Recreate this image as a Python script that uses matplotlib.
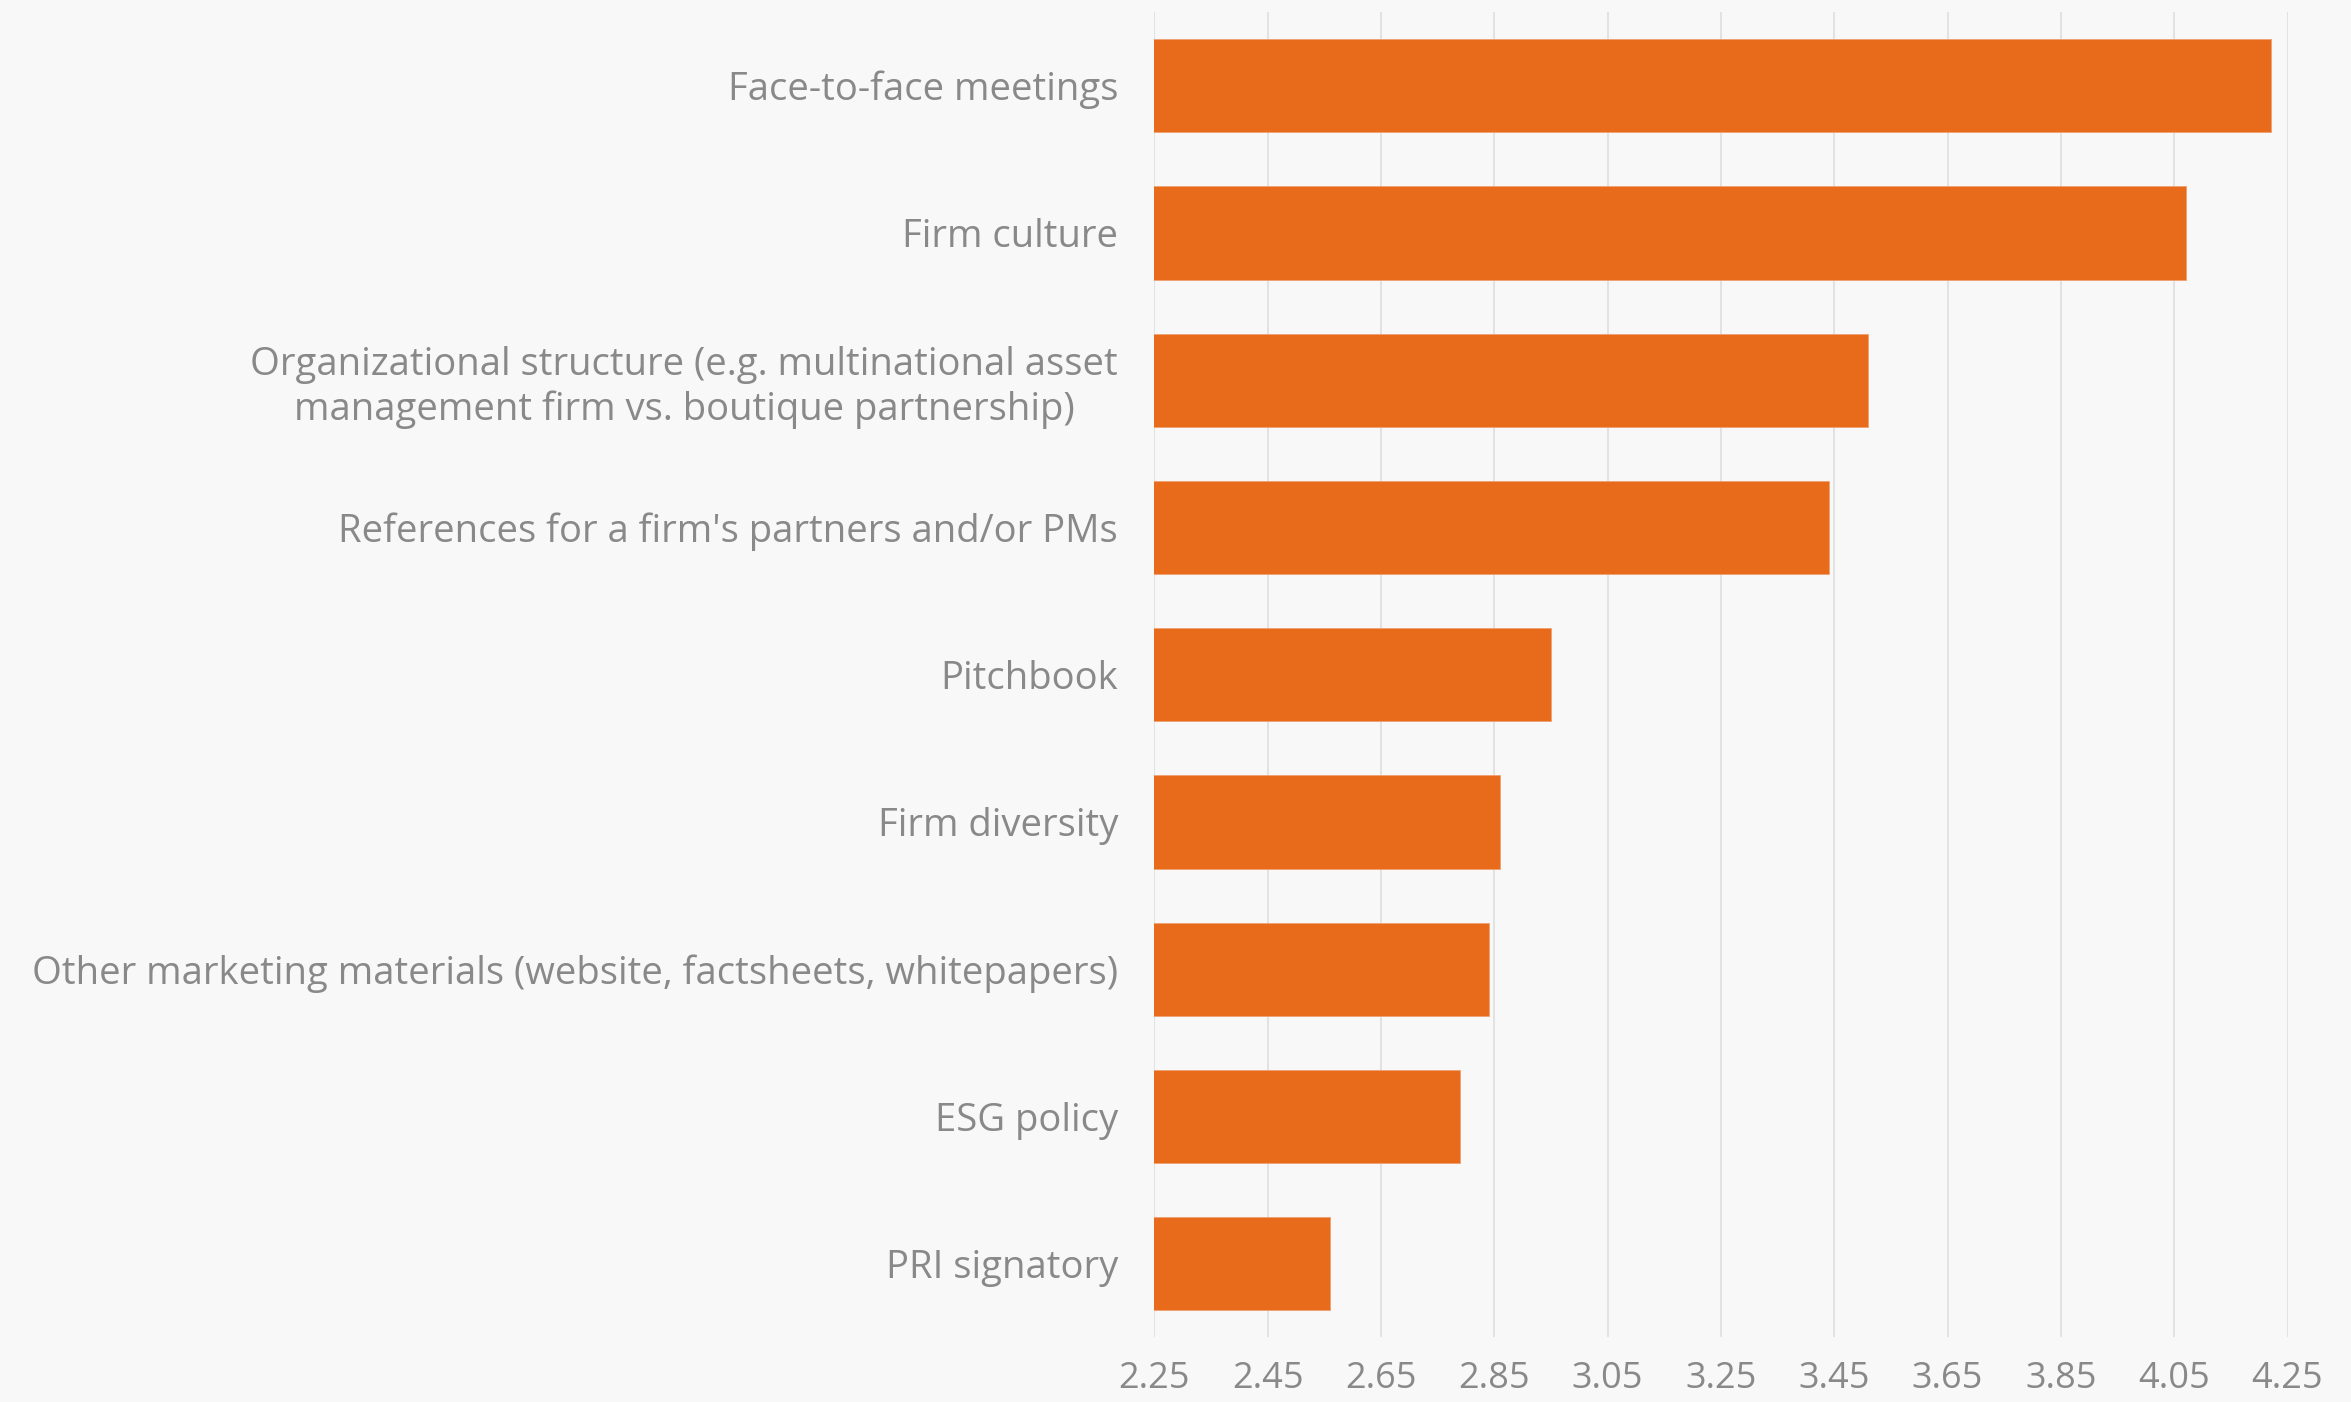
import matplotlib
matplotlib.use('Agg')
import matplotlib.pyplot as plt
import numpy as np

BG = '#F8F8F8'
ORANGE = '#E76B1A'
GREY = '#898989'
GRID = '#E2E2E2'

categories = [
    'Face-to-face meetings',
    'Firm culture',
    'Organizational structure (e.g. multinational asset\nmanagement firm vs. boutique partnership)',
    "References for a firm's partners and/or PMs",
    'Pitchbook',
    'Firm diversity',
    'Other marketing materials (website, factsheets, whitepapers)',
    'ESG policy',
    'PRI signatory',
]
scores = [4.22, 4.07, 3.51, 3.44, 2.95, 2.86, 2.84, 2.79, 2.56]
xticks = [2.25, 2.45, 2.65, 2.85, 3.05, 3.25, 3.45, 3.65, 3.85, 4.05, 4.25]

plt.rcParams['font.family'] = ['Open Sans', 'DejaVu Sans']

fig = plt.figure(figsize=(23.51, 14.02), dpi=100, facecolor=BG)
ax = fig.add_axes([0.4910, 0.0461, 0.4820, 0.9453])
ax.set_facecolor(BG)

y = np.arange(len(categories))
ax.barh(y, scores, height=0.633, color=ORANGE, edgecolor='#F0A070',
        linewidth=0.6, zorder=3)

ax.set_xlim(2.25, 4.25)
ax.set_ylim(len(categories) - 0.5, -0.5)
ax.set_xticks(xticks)
ax.set_xticklabels([f'{t:.2f}' for t in xticks])
ax.set_yticks(y)
ax.set_yticklabels(categories, multialignment='center', linespacing=1.2)

ax.tick_params(axis='both', length=0, colors=GREY)
ax.tick_params(axis='y', pad=26, labelsize=27.5)
ax.tick_params(axis='x', pad=17, labelsize=26)
ax.xaxis.grid(True, color=GRID, linewidth=1.4, zorder=0)
ax.set_axisbelow(True)
for s in ax.spines.values():
    s.set_visible(False)

plt.savefig('out.png', dpi=100, facecolor=BG)
plt.close()
print("Done: out.png")
